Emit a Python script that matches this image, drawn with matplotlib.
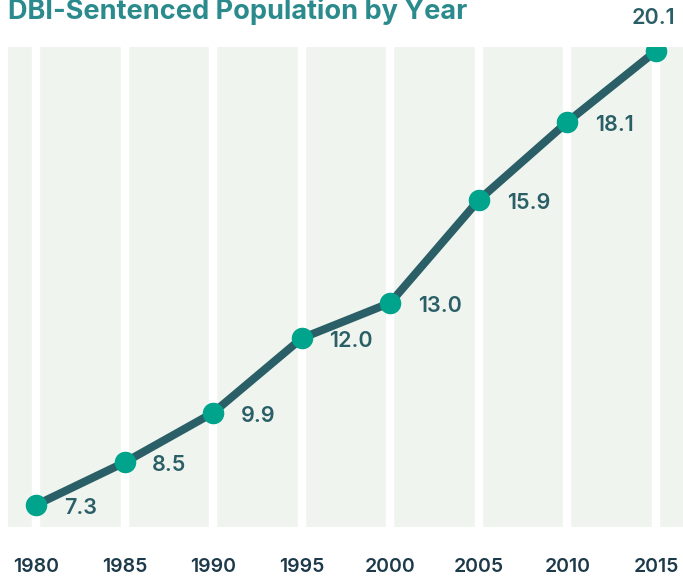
import matplotlib
matplotlib.use('Agg')
import matplotlib.pyplot as plt

years = [1980, 1985, 1990, 1995, 2000, 2005, 2010, 2015]
population = [7.3, 8.5, 9.9, 12.0, 13.0, 15.9, 18.1, 20.1]
value_labels = ['7.3', '8.5', '9.9', '12.0', '13.0', '15.9', '18.1', '20.1']

plt.rcParams['font.family'] = ['Inter', 'DejaVu Sans']

fig = plt.figure(figsize=(6.83, 5.76), dpi=100)
ax = fig.add_axes([8/683, 49/576, 675/683, 480/576])
ax.set_facecolor('#eff5ee')

for y in years:
    ax.axvline(y, color='white', lw=6, zorder=1)

ax.plot(years, population, color='#2b5f67', lw=5.8, zorder=2, solid_capstyle='round')
ax.plot(years, population, 'o', color='#00a38b', ms=14.5, zorder=3)

# labels: right of points, last one above
for i, (x, v) in enumerate(zip(years, population)):
    if i == len(years) - 1:
        ax.annotate(value_labels[i], (x, v), xytext=(-2, 24), textcoords='offset points',
                    ha='center', va='center', fontsize=15.5, color='#2b5f67', fontweight='semibold')
    else:
        ax.annotate(value_labels[i], (x, v), xytext=(20, -2), textcoords='offset points',
                    ha='left', va='center', fontsize=15.5, color='#2b5f67', fontweight='semibold')

ax.set_xlim(1980 - 1.58, 2015 + 1.52)
ax.set_ylim(6.68, 20.21)
ax.set_xticks(years)
ax.set_xticklabels([str(y) for y in years], fontsize=14, fontweight='semibold', color='#1d3a4a')
ax.tick_params(axis='x', length=0, pad=22)
ax.set_yticks([])
for s in ax.spines.values():
    s.set_visible(False)

fig.text(8/683, 1 - 19/576, 'DBI-Sentenced Population by Year', fontsize=19.5, fontweight='bold',
         color='#2a8a8c', ha='left', va='baseline')

fig.savefig('out.png', dpi=100)
